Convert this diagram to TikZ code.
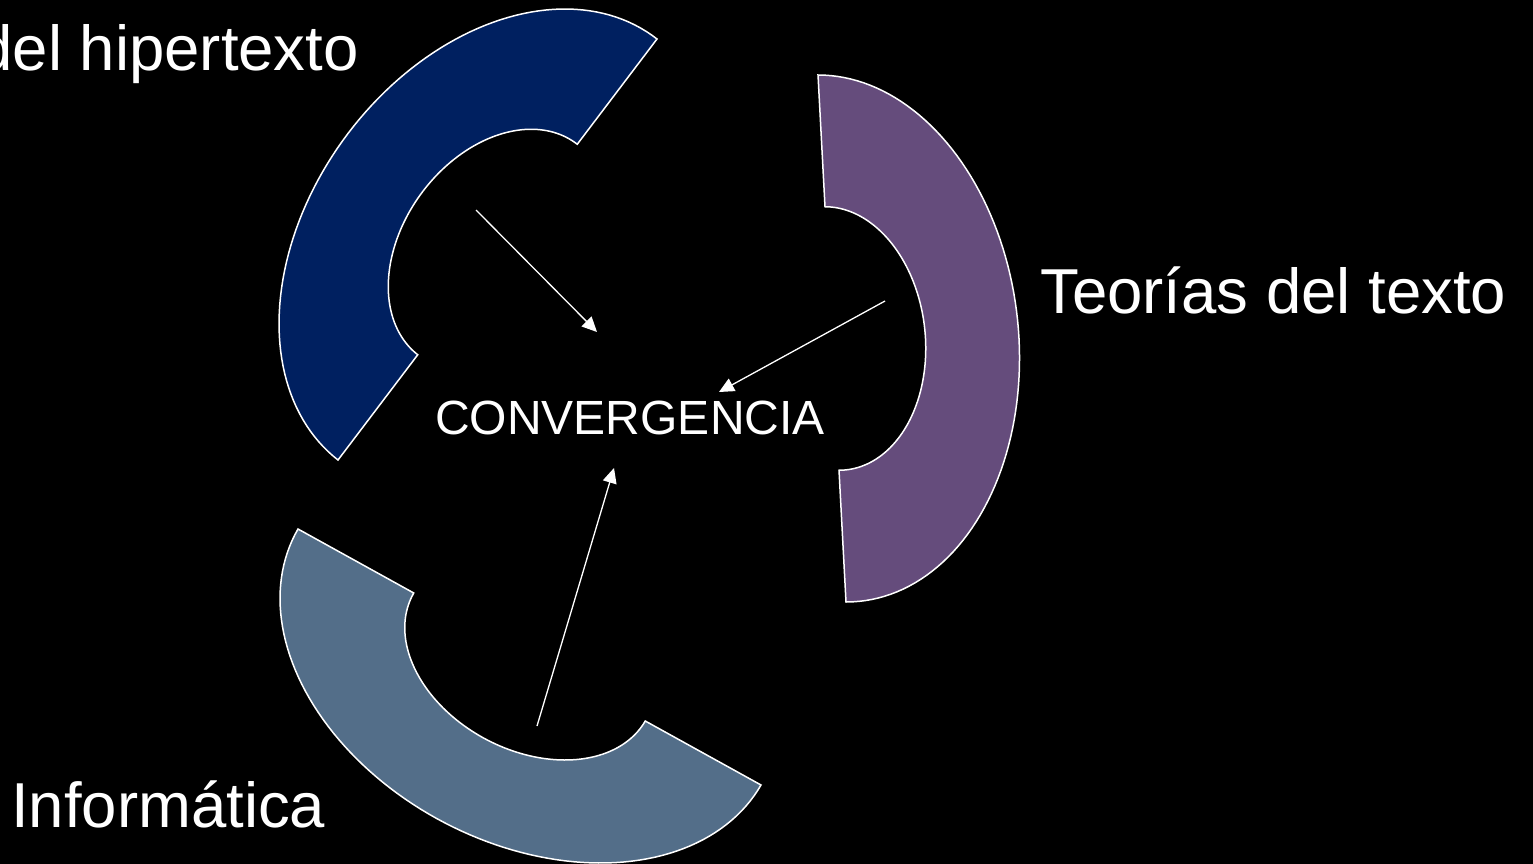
\documentclass[tikz,border=0pt]{standalone}
\usepackage{fontspec}
\setmainfont{Liberation Sans}
\usetikzlibrary{arrows.meta}
\definecolor{hiperblue}{RGB}{0,32,96}
\definecolor{textopurple}{RGB}{101,76,124}
\definecolor{infoslate}{RGB}{83,110,137}
\begin{document}
\begin{tikzpicture}[x=1pt,y=-1pt,
    blockarc/.style={draw=white,line width=1.5pt,line join=miter},
    ring/.style={samples=91,variable=\t},
    themetext/.style={text=white,inner sep=0pt,font=\fontsize{63.5}{70}\selectfont},
    centertext/.style={text=white,inner sep=0pt,font=\fontsize{48}{54}\selectfont},
    arrowline/.style={draw=white,line width=1.3pt,-{Triangle[length=15pt,width=14pt]}}]
    \useasboundingbox (0,0) rectangle (1533,864);
    \fill[black] (0,0) rectangle (1533,864);
    \filldraw[blockarc,fill=hiperblue]
        plot[ring,domain=0:180] ({497.5+159.5*cos(\t)-149.3*sin(\t)},{249.5-210.5*cos(\t)-116.3*sin(\t)})
        -- plot[ring,domain=180:0] ({497.5+0.5*(159.5*cos(\t)-149.3*sin(\t))},{249.5+0.5*(-210.5*cos(\t)-116.3*sin(\t))}) -- cycle;
    \filldraw[blockarc,fill=textopurple]
        plot[ring,domain=0:180] ({832-14*cos(\t)+187*sin(\t)},{338.5-263.5*cos(\t)})
        -- plot[ring,domain=180:0] ({832+0.5*(-14*cos(\t)+187*sin(\t))},{338.5-0.5*263.5*cos(\t)}) -- cycle;
    \filldraw[blockarc,fill=infoslate]
        plot[ring,domain=0:180] ({529.5-231.5*cos(\t)-93*sin(\t)},{657-128*cos(\t)+161.4*sin(\t)})
        -- plot[ring,domain=180:0] ({529.5+0.5*(-231.5*cos(\t)-93*sin(\t))},{657+0.5*(-128*cos(\t)+161.4*sin(\t))}) -- cycle;
    \node[themetext,anchor=base east] (hiper) at (359,71) {del hipertexto};
    \node[themetext,anchor=base west] (texto) at (1040,313) {Teorías del texto};
    \node[themetext,anchor=base west] (info) at (11,827) {Informática};
    \node[centertext,anchor=base] (conv) at (630,434) {CONVERGENCIA};
    \coordinate (hiperTail) at (476,210);
    \coordinate (hiperTip) at (597,332);
    \coordinate (textoTail) at (885,301);
    \coordinate (textoTip) at (719,392);
    \coordinate (infoTail) at (537,726);
    \coordinate (infoTip) at (614,468);
    \draw[arrowline] (hiperTail) -- (hiperTip);
    \draw[arrowline] (textoTail) -- (textoTip);
    \draw[arrowline] (infoTail) -- (infoTip);
\end{tikzpicture}
\end{document}
